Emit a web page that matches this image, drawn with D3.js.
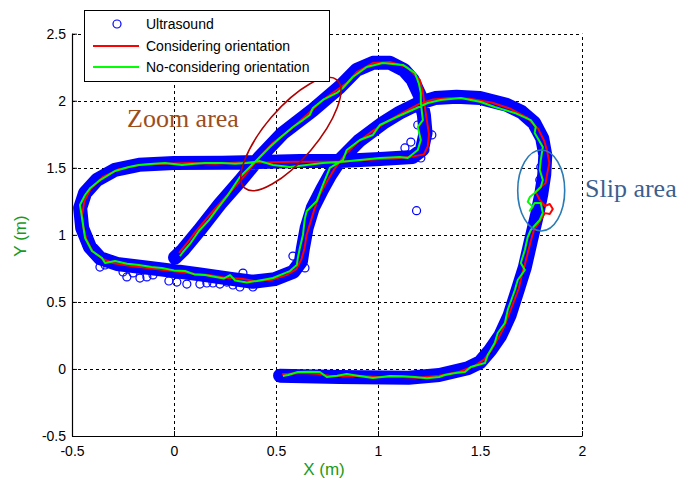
<!DOCTYPE html>
<html><head><meta charset="utf-8">
<script src="https://cdn.jsdelivr.net/npm/d3@7"></script>
<style>body{margin:0;background:#fff}svg{display:block}</style>
</head><body><svg id="c" width="681" height="478"></svg>
<script>
// ---- data (metres) ----
const xTicks = [-0.5, 0, 0.5, 1, 1.5, 2];
const xTickLabels = ["-0.5", "0", "0.5", "1", "1.5", "2"];
const yTicks = [-0.5, 0, 0.5, 1, 1.5, 2, 2.5];
const yTickLabels = ["-0.5", "0", "0.5", "1", "1.5", "2", "2.5"];
const seriesNames = ["Ultrasound", "Considering orientation", "No-considering orientation"];

// Ultrasound measurements along the track
const ultrasoundTrack = [
[0.52,-0.05],[0.81,-0.06],[1.15,-0.065],[1.30,-0.045],[1.44,0.005],[1.50,0.05],[1.55,0.14],[1.60,0.25],[1.645,0.40],[1.685,0.59],[1.72,0.76],[1.75,0.96],[1.78,1.15],[1.80,1.30],[1.815,1.45],[1.82,1.595],[1.805,1.72],[1.765,1.835],[1.705,1.915],[1.63,1.97],[1.50,2.02],[1.385,2.03],[1.28,2.02],[1.205,1.985],[1.105,1.91],[1.025,1.835],[0.91,1.705],[0.815,1.56],[0.765,1.445],[0.725,1.335],[0.68,1.20],[0.65,1.05],[0.632,0.90],[0.622,0.80],[0.585,0.725],[0.495,0.67],[0.385,0.65],[0.29,0.67],[0.127,0.705],[0.00,0.73],[-0.118,0.753],[-0.28,0.783],[-0.363,0.827],[-0.412,0.909],[-0.45,1.05],[-0.46,1.20],[-0.436,1.312],[-0.378,1.41],[-0.29,1.485],[-0.172,1.522],[0.0,1.536],[0.235,1.537],[0.42,1.543],[0.617,1.55],[0.813,1.55],[1.01,1.566],[1.17,1.58],[1.215,1.633],[1.233,1.76],[1.225,1.894],[1.205,2.04],[1.17,2.155],[1.127,2.23],[1.058,2.283],[0.975,2.283],[0.895,2.23],[0.813,2.103],[0.68,1.93],[0.534,1.76],[0.421,1.58],[0.323,1.40],[0.225,1.23],[0.122,1.03],[0.044,0.887],[0.005,0.83]
];
// Scattered ultrasound readings off the track
const ultrasoundScatter = [
[1.189,1.18],[-0.397,0.865],[-0.363,0.76],[-0.314,0.79],[-0.25,0.723],[-0.231,0.686],[-0.201,0.716],[-0.167,0.678],[-0.133,0.686],[-0.103,0.701],[-0.025,0.656],[0.014,0.648],[0.063,0.633],[0.127,0.633],[0.161,0.641],[0.191,0.641],[0.225,0.633],[0.259,0.648],[0.289,0.626],[0.338,0.715],[0.323,0.611],[0.387,0.611],[0.583,0.842],[0.642,0.753],[-0.427,0.924],[-0.338,0.775],
[1.195,1.819],[1.264,1.745],[1.161,1.692],[1.23,1.633],[1.181,1.61],[1.21,1.573],[1.132,1.648],[1.798,1.506],[1.793,1.409]
];
// Considering orientation (red)
const consideringXY = [
[0.53,-0.04],[0.57,-0.035],[0.62,-0.03],[0.70,-0.035],[0.76,-0.05],[0.83,-0.055],[0.90,-0.05],[1.00,-0.06],[1.10,-0.06],[1.20,-0.065],[1.30,-0.05],[1.40,-0.02],[1.47,0.02],[1.52,0.07],[1.56,0.15],[1.59,0.23],[1.62,0.32],[1.645,0.42],[1.665,0.50],[1.69,0.60],[1.705,0.70],[1.72,0.78],[1.735,0.87],[1.75,0.96],[1.765,1.04],[1.785,1.08],[1.798,1.112],[1.818,1.162],[1.842,1.155],[1.857,1.193],[1.842,1.23],[1.818,1.215],[1.793,1.26],[1.773,1.32],[1.80,1.36],[1.822,1.387],[1.83,1.46],[1.84,1.535],[1.83,1.62],[1.815,1.70],[1.785,1.79],[1.73,1.875],[1.65,1.94],[1.56,1.985],[1.45,2.015],[1.35,2.02],[1.27,2.01],[1.20,1.975],[1.12,1.91],[1.04,1.84],[0.97,1.77],[0.90,1.69],[0.84,1.60],[0.79,1.50],[0.75,1.40],[0.715,1.30],[0.69,1.20],[0.67,1.10],[0.65,1.00],[0.64,0.90],[0.625,0.82],[0.60,0.745],[0.55,0.70],[0.48,0.665],[0.40,0.655],[0.33,0.672],[0.25,0.68],[0.17,0.70],[0.10,0.71],[0.02,0.725],[-0.06,0.74],[-0.14,0.755],[-0.22,0.77],[-0.30,0.79],[-0.35,0.82],[-0.40,0.88],[-0.43,0.97],[-0.445,1.06],[-0.45,1.15],[-0.44,1.25],[-0.41,1.34],[-0.35,1.43],[-0.27,1.49],[-0.17,1.52],[-0.05,1.53],[0.08,1.535],[0.20,1.53],[0.32,1.54],[0.45,1.54],[0.58,1.545],[0.70,1.545],[0.82,1.545],[0.95,1.56],[1.08,1.57],[1.17,1.585],[1.225,1.60],[1.244,1.66],[1.25,1.75],[1.24,1.85],[1.23,1.95],[1.22,2.06],[1.205,2.155],[1.141,2.252],[1.058,2.289],[0.975,2.281],[0.896,2.214],[0.847,2.132],[0.798,2.08],[0.730,2.006],[0.651,1.894],[0.568,1.782],[0.485,1.685],[0.421,1.581],[0.357,1.462],[0.30,1.36],[0.24,1.26],[0.17,1.14],[0.11,1.03],[0.06,0.93],[0.025,0.865]
];
// No-considering orientation (green)
const noConsideringXY = [
[0.534,-0.053],[0.56,-0.045],[0.607,-0.023],[0.66,-0.02],[0.715,-0.023],[0.749,-0.06],[0.80,-0.05],[0.847,-0.038],[0.90,-0.05],[0.975,-0.067],[1.02,-0.06],[1.058,-0.053],[1.12,-0.055],[1.181,-0.06],[1.24,-0.07],[1.30,-0.06],[1.328,-0.045],[1.38,-0.03],[1.426,-0.023],[1.455,0.015],[1.524,0.044],[1.538,0.104],[1.572,0.193],[1.587,0.268],[1.622,0.343],[1.636,0.44],[1.655,0.52],[1.671,0.589],[1.685,0.663],[1.72,0.738],[1.70,0.79],[1.72,0.887],[1.734,0.984],[1.749,1.036],[1.793,1.111],[1.808,1.164],[1.798,1.237],[1.768,1.237],[1.744,1.18],[1.759,1.21],[1.734,1.246],[1.744,1.282],[1.768,1.312],[1.798,1.357],[1.808,1.409],[1.793,1.484],[1.798,1.558],[1.808,1.655],[1.768,1.76],[1.773,1.804],[1.749,1.856],[1.67,1.909],[1.572,1.953],[1.504,1.991],[1.406,2.021],[1.308,2.006],[1.244,1.983],[1.146,1.916],[1.092,1.879],[1.009,1.819],[0.975,1.745],[0.911,1.707],[0.847,1.633],[0.828,1.558],[0.764,1.499],[0.730,1.372],[0.700,1.253],[0.651,1.178],[0.642,1.126],[0.632,0.999],[0.617,0.902],[0.607,0.827],[0.602,0.775],[0.568,0.730],[0.485,0.678],[0.406,0.656],[0.357,0.645],[0.30,0.66],[0.275,0.70],[0.245,0.675],[0.19,0.69],[0.152,0.701],[0.10,0.705],[0.054,0.73],[0.0,0.735],[-0.059,0.753],[-0.11,0.76],[-0.172,0.775],[-0.23,0.785],[-0.289,0.805],[-0.338,0.79],[-0.353,0.827],[-0.402,0.88],[-0.436,0.977],[-0.451,1.126],[-0.461,1.223],[-0.436,1.297],[-0.41,1.35],[-0.368,1.402],[-0.289,1.476],[-0.221,1.506],[-0.172,1.521],[-0.10,1.53],[-0.044,1.536],[0.039,1.521],[0.10,1.53],[0.152,1.536],[0.235,1.536],[0.30,1.53],[0.357,1.536],[0.421,1.55],[0.485,1.521],[0.568,1.506],[0.651,1.521],[0.730,1.536],[0.813,1.543],[0.911,1.558],[1.009,1.573],[1.107,1.581],[1.146,1.573],[1.195,1.633],[1.21,1.707],[1.195,1.804],[1.22,1.856],[1.21,1.983],[1.21,2.058],[1.20,2.13],[1.181,2.207],[1.122,2.267],[1.024,2.281],[0.945,2.252],[0.877,2.177],[0.828,2.095],[0.798,2.058],[0.730,2.006],[0.681,1.946],[0.666,1.894],[0.632,1.856],[0.583,1.804],[0.519,1.722],[0.470,1.655],[0.421,1.581],[0.372,1.506],[0.323,1.431],[0.264,1.296],[0.215,1.199],[0.171,1.11],[0.122,1.029],[0.078,0.932],[0.044,0.872],[0.029,0.842]
];
// Annotations (centre in data units)
const zoomAreaCentre = [0.573, 1.752];
const slipAreaCentre = [1.800, 1.331];

// ---- drawing ----
const svg = d3.select('#c');
const x = d3.scaleLinear().domain([-0.5, 2]).range([72, 582]);
const y = d3.scaleLinear().domain([-0.5, 2.5]).range([436, 33.7]);
const FONT = 'Arial, "Liberation Sans", sans-serif';

svg.append('rect').attr('width', 681).attr('height', 478).attr('fill', '#fff');

// grid
const grid = svg.append('g').attr('stroke', '#000').attr('stroke-width', 1).attr('stroke-dasharray', '3,3');
grid.selectAll('.gx').data(xTicks).join('line').attr('class', 'gx')
  .attr('x1', d => Math.round(x(d)) + 0.5).attr('x2', d => Math.round(x(d)) + 0.5)
  .attr('y1', y(-0.5)).attr('y2', y(2.5));
grid.selectAll('.gy').data(yTicks).join('line').attr('class', 'gy')
  .attr('y1', d => Math.round(y(d)) + 0.5).attr('y2', d => Math.round(y(d)) + 0.5)
  .attr('x1', x(-0.5)).attr('x2', x(2));

const line = d3.line().x(d => x(d[0])).y(d => y(d[1]));

// ultrasound band
svg.append('path').attr('d', line(ultrasoundTrack)).attr('fill', 'none')
  .attr('stroke', '#0000ff').attr('stroke-width', 14)
  .attr('stroke-linejoin', 'round').attr('stroke-linecap', 'round');
svg.append('g').selectAll('circle').data(ultrasoundTrack.concat(ultrasoundScatter)).join('circle')
  .attr('cx', d => x(d[0])).attr('cy', d => y(d[1])).attr('r', 4)
  .attr('fill', 'none').attr('stroke', '#0000ff').attr('stroke-width', 1.2);

svg.append('path').attr('d', line(consideringXY)).attr('fill', 'none')
  .attr('stroke', '#ff0000').attr('stroke-width', 2).attr('stroke-linejoin', 'round');
svg.append('path').attr('d', line(noConsideringXY)).attr('fill', 'none')
  .attr('stroke', '#00ff00').attr('stroke-width', 2).attr('stroke-linejoin', 'round');

// axes
const ax = svg.append('g').attr('transform', `translate(0,${y(-0.5)})`)
  .call(d3.axisBottom(x).tickValues(xTicks).tickFormat((d, i) => xTickLabels[i])
    .tickSize(-5).tickSizeOuter(0).tickPadding(10));
const ay = svg.append('g').attr('transform', `translate(${x(-0.5)},0)`)
  .call(d3.axisLeft(y).tickValues(yTicks).tickFormat((d, i) => yTickLabels[i])
    .tickSize(-5).tickSizeOuter(0).tickPadding(6));
[ax, ay].forEach(g => {
  g.selectAll('text').attr('font-size', 14).attr('font-family', FONT).attr('fill', '#000');
  g.select('.domain').attr('stroke', '#000').attr('stroke-width', 1.2);
  g.selectAll('.tick line').attr('stroke', '#000');
});

// axis titles
svg.append('text').attr('x', 324).attr('y', 475).attr('text-anchor', 'middle')
  .attr('font-family', FONT).attr('font-size', 17).attr('fill', '#1a9a1a').text('X (m)');
svg.append('text').attr('transform', 'translate(26,236) rotate(-90)').attr('text-anchor', 'middle')
  .attr('font-family', FONT).attr('font-size', 17).attr('fill', '#1a9a1a').text('Y (m)');

// annotations
svg.append('ellipse').attr('cx', x(zoomAreaCentre[0])).attr('cy', y(zoomAreaCentre[1]))
  .attr('rx', 71).attr('ry', 25.7)
  .attr('transform', `rotate(-49.6 ${x(zoomAreaCentre[0])} ${y(zoomAreaCentre[1])})`)
  .attr('fill', 'none').attr('stroke', '#b00000').attr('stroke-width', 1.6);
svg.append('ellipse').attr('cx', x(slipAreaCentre[0])).attr('cy', y(slipAreaCentre[1]))
  .attr('rx', 23.5).attr('ry', 40.5)
  .attr('fill', 'none').attr('stroke', '#2a7ab5').attr('stroke-width', 1.6);
svg.append('text').attr('x', 127).attr('y', 127)
  .attr('font-family', '"Liberation Serif", "Times New Roman", serif').attr('font-size', 26)
  .attr('fill', '#9c4d1b').text('Zoom area');
svg.append('text').attr('x', 585).attr('y', 197)
  .attr('font-family', '"Liberation Serif", "Times New Roman", serif').attr('font-size', 26)
  .attr('fill', '#3d5f8f').text('Slip area');

// legend
const lg = svg.append('g');
lg.append('rect').attr('x', 84.5).attr('y', 10.5).attr('width', 245).attr('height', 71)
  .attr('fill', '#fff').attr('stroke', '#000').attr('stroke-width', 1);
const rows = [24, 46, 67];
lg.append('circle').attr('cx', 117).attr('cy', rows[0]).attr('r', 4)
  .attr('fill', 'none').attr('stroke', '#0000ff').attr('stroke-width', 1.2);
lg.append('line').attr('x1', 93).attr('x2', 139).attr('y1', rows[1]).attr('y2', rows[1])
  .attr('stroke', '#ff0000').attr('stroke-width', 2);
lg.append('line').attr('x1', 93).attr('x2', 139).attr('y1', rows[2]).attr('y2', rows[2])
  .attr('stroke', '#00ff00').attr('stroke-width', 2);
lg.selectAll('.lt').data(seriesNames).join('text').attr('class', 'lt')
  .attr('x', 146).attr('y', (d, i) => rows[i] + 5)
  .attr('font-family', FONT).attr('font-size', 14).attr('fill', '#000').text(d => d);
</script></body></html>
